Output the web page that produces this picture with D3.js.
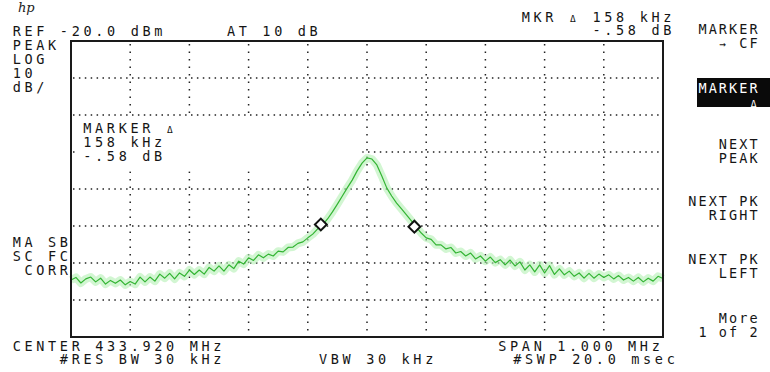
<!DOCTYPE html>
<html>
<head>
<meta charset="utf-8">
<script src="https://cdn.jsdelivr.net/npm/d3@7"></script>
<style>
  html, body { margin: 0; padding: 0; background: #fff; }
  svg { display: block; }
</style>
</head>
<body>
<div id="chart"></div>
<script>
// analyzer settings
const centerMHz = 433.920;
const spanMHz = 1.000;
const refLevel = -20;
const dbPerDiv = 10;
const xDivs = 10, yDivs = 8;

// trace, dBm (121 points across the span)
const traceDbm = [
  -84.6, -83.9, -85.4, -84.3, -83.8, -85.1, -84.1, -85.7, -84.7, -85.5,
  -84.6, -85.9, -85.0, -85.7, -83.8, -85.1, -83.8, -84.9, -83.0, -84.1,
  -82.8, -84.3, -82.7, -83.6, -81.9, -83.1, -81.9, -83.0, -81.2, -82.2,
  -80.8, -82.2, -80.5, -81.5, -79.5, -80.3, -78.6, -79.3, -77.8, -78.6,
  -77.6, -78.1, -76.8, -77.0, -75.8, -75.7, -74.7, -74.3, -73.2, -72.2,
  -70.8, -69.7, -68.1, -66.2, -64.1, -61.9, -59.7, -57.6, -55.1, -53.0,
  -51.6, -51.9, -53.5, -56.5, -59.7, -61.9, -63.8, -65.4, -67.0, -68.6,
  -70.3, -71.9, -73.2, -73.6, -75.1, -75.1, -76.2, -75.8, -77.3, -76.9,
  -78.1, -77.3, -78.9, -78.1, -79.5, -78.4, -79.9, -79.1, -80.5, -79.2,
  -80.8, -79.7, -81.9, -80.5, -82.4, -80.5, -82.7, -80.7, -83.1, -81.6,
  -83.2, -82.2, -83.6, -82.7, -84.1, -82.8, -84.1, -83.0, -83.9, -83.2,
  -84.3, -83.4, -84.6, -83.9, -84.9, -83.9, -85.1, -84.1, -84.9, -83.6,
  -84.2
];

// delta markers
const markerMHz = [433.842, 434.000];
const markerDbm = [-69.6, -70.18];

// annotation texts
const topLeft = ["REF -20.0 dBm"];
const topMid = ["AT 10 dB"];
const modeLines = ["PEAK", "LOG", "10", "dB/"];
const corrLines = ["MA SB", "SC FC", " CORR"];
const mkrReadout = ["MKR Δ 158 kHz", "      -.58 dB"];
const mkrBlock = ["MARKER Δ", "158 kHz", "-.58 dB"];
const bottomLeft = ["CENTER 433.920 MHz", "    #RES BW 30 kHz"];
const bottomMid = ["VBW 30 kHz"];
const bottomRight = ["SPAN 1.000 MHz", " #SWP 20.0 msec"];
const softkeys = [
  ["MARKER", "→ CF"],
  ["MARKER", "Δ"],
  ["NEXT", "PEAK"],
  ["NEXT PK", "RIGHT"],
  ["NEXT PK", "LEFT"],
  ["More", "1 of 2"]
];
const activeKey = 1;

const W = 770, H = 372;
const plot = { left: 71, top: 41, width: 592, height: 296 };

const svg = d3.select("#chart").append("svg")
  .attr("width", W).attr("height", H)
  .style("font-family", "'DejaVu Sans Mono', monospace");

const startMHz = centerMHz - spanMHz / 2;
const x = d3.scaleLinear()
  .domain([startMHz, startMHz + spanMHz])
  .range([plot.left, plot.left + plot.width]);
const y = d3.scaleLinear()
  .domain([refLevel - dbPerDiv * yDivs, refLevel])
  .range([plot.top + plot.height, plot.top]);

// graticule
const gridF = d3.range(1, xDivs).map(k => startMHz + k * spanMHz / xDivs);
const gridL = d3.range(1, yDivs).map(k => refLevel - k * dbPerDiv);

svg.append("g").selectAll("line").data(gridF).enter().append("line")
  .attr("x1", d => x(d)).attr("x2", d => x(d))
  .attr("y1", plot.top + 3).attr("y2", plot.top + plot.height)
  .attr("stroke", "#222").attr("stroke-width", 1.5)
  .attr("stroke-dasharray", "1.5,6");

svg.append("g").selectAll("line").data(gridL).enter().append("line")
  .attr("x1", plot.left + 2).attr("x2", plot.left + plot.width)
  .attr("y1", d => y(d)).attr("y2", d => y(d))
  .attr("stroke", "#222").attr("stroke-width", 1.5)
  .attr("stroke-dasharray", "1.5,4.4");

// blanked area behind the marker readout
svg.append("rect")
  .attr("x", x(433.430)).attr("y", y(-40.9))
  .attr("width", x(433.912) - x(433.430))
  .attr("height", y(-55.2) - y(-40.9))
  .attr("fill", "#fff");

// trace
const traceData = traceDbm.map((v, i) => ({
  f: startMHz + i * spanMHz / (traceDbm.length - 1),
  v: v
}));
const line = d3.line().x(d => x(d.f)).y(d => y(d.v));

svg.append("path").datum(traceData)
  .attr("d", line).attr("fill", "none")
  .attr("stroke", "#b4f0b4").attr("stroke-opacity", 0.6)
  .attr("stroke-width", 8).attr("stroke-linejoin", "round");
svg.append("path").datum(traceData)
  .attr("d", line).attr("fill", "none")
  .attr("stroke", "#33b433").attr("stroke-width", 1.2)
  .attr("stroke-linejoin", "round");

// frame
svg.append("rect")
  .attr("x", plot.left).attr("y", plot.top)
  .attr("width", plot.width).attr("height", plot.height)
  .attr("fill", "none").attr("stroke", "#1a1a1a").attr("stroke-width", 2);

// markers
svg.append("g").selectAll("path")
  .data(markerMHz.map((f, i) => ({ f: f, v: markerDbm[i] })))
  .enter().append("path")
  .attr("d", d3.symbol().type(d3.symbolSquare).size(70))
  .attr("transform", d => `translate(${x(d.f)},${y(d.v)}) rotate(45)`)
  .attr("fill", "#fff").attr("stroke", "#111").attr("stroke-width", 2);

// fixed pitch text, one glyph per cell
function label(str, x0, yb, pitch, color) {
  const g = svg.append("g").attr("fill", color || "#151515");
  Array.from(str).forEach((c, i) => {
    if (c === " ") return;
    g.append("text")
      .attr("x", x0 + i * pitch + 4)
      .attr("y", yb)
      .attr("text-anchor", "middle")
      .attr("font-size", c === "Δ" ? 9.5 : (c === "→" ? 11 : 13.5))
      .text(c);
  });
}

const P = 11.8;   // main annotation pitch
const PK = 10.2;  // softkey pitch

label(topLeft[0], 12.7, 35.5, P);
label(topMid[0], 227, 35.5, P);
modeLines.forEach((s, i) => label(s, 12.7, 50 + i * 14, P));
corrLines.forEach((s, i) => label(s, 12.7, 246.5 + i * 14.2, P));
label(mkrReadout[0], 521.7, 22, P);
label(mkrReadout[1], 521.7, 35, P);
mkrBlock.forEach((s, i) => label(s, 83.3, 132.5 + i * 14.2, P));
bottomLeft.forEach((s, i) => label(s, 12.7, 350.7 + i * 13.5, P));
label(bottomMid[0], 319, 364.2, P);
label(bottomRight[0], 498.3, 350.7, P);
label(bottomRight[1], 501.5, 364.2, P);

// softkeys, right aligned
const keyTop = [34, 93, 149, 206, 264, 323];
softkeys.forEach((k, i) => {
  if (i === activeKey) {
    svg.append("rect").attr("x", 697).attr("y", keyTop[i] - 15)
      .attr("width", 73).attr("height", 29).attr("fill", "#0a0a0a");
  }
  k.forEach((s, j) => {
    const n = Array.from(s).length;
    label(s, 749.5 - (n - 1) * PK, keyTop[i] + j * 14.2, PK,
      i === activeKey ? "#fff" : "#151515");
  });
});

// hp logo
svg.append("text")
  .attr("x", 18).attr("y", 12)
  .attr("font-family", "'DejaVu Serif', serif")
  .attr("font-style", "italic").attr("font-size", 13)
  .attr("fill", "#222")
  .text("hp");
</script>
</body>
</html>
